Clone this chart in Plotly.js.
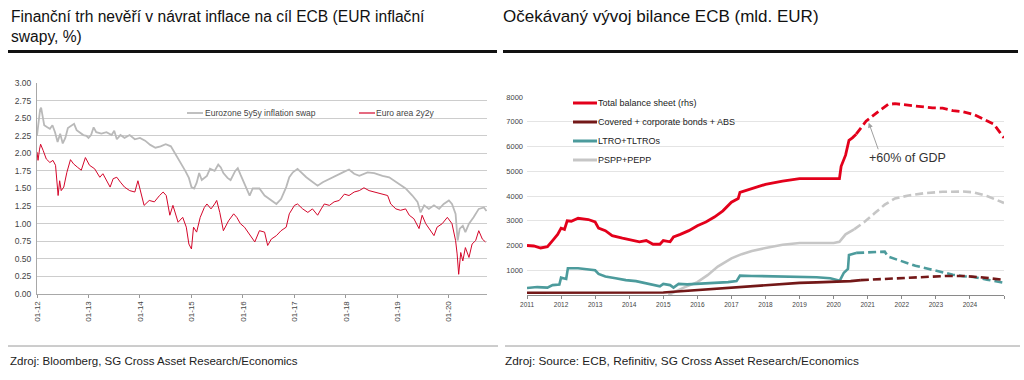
<!DOCTYPE html>
<html><head><meta charset="utf-8">
<script src="https://cdn.plot.ly/plotly-3.0.1.min.js"></script>
<style>html,body{margin:0;padding:0;background:#fff}#c{width:1024px;height:380px}</style>
</head><body><div id="c"></div>
<script>
// ---- Left chart: EUR inflation swaps (%) ----
const swapTickVals = [2012,2013,2014,2015,2016,2017,2018,2019,2020];
const swapTickText = ['01-12','01-13','01-14','01-15','01-16','01-17','01-18','01-19','01-20'];
const s5y5yYears = [2012.00,2012.03,2012.06,2012.08,2012.11,2012.14,2012.20,2012.25,2012.30,2012.35,2012.40,2012.45,2012.50,2012.55,2012.60,2012.67,2012.72,2012.77,2012.83,2012.90,2012.96,2013.00,2013.05,2013.10,2013.15,2013.25,2013.35,2013.45,2013.50,2013.55,2013.62,2013.70,2013.80,2013.90,2014.00,2014.10,2014.20,2014.30,2014.40,2014.50,2014.60,2014.70,2014.80,2014.88,2014.95,2015.00,2015.05,2015.10,2015.15,2015.20,2015.30,2015.36,2015.45,2015.52,2015.57,2015.62,2015.70,2015.76,2015.85,2015.90,2015.95,2016.00,2016.06,2016.13,2016.19,2016.32,2016.42,2016.52,2016.65,2016.74,2016.84,2016.90,2016.97,2017.06,2017.13,2017.23,2017.32,2017.45,2017.55,2017.68,2017.81,2017.94,2018.06,2018.16,2018.26,2018.42,2018.55,2018.71,2018.84,2018.94,2019.03,2019.16,2019.29,2019.39,2019.45,2019.52,2019.61,2019.71,2019.81,2019.90,2020.00,2020.06,2020.13,2020.17,2020.21,2020.27,2020.32,2020.39,2020.48,2020.58,2020.68,2020.73];
const s5y5y = [2.25,2.42,2.62,2.65,2.52,2.40,2.37,2.35,2.40,2.30,2.16,2.28,2.14,2.22,2.36,2.40,2.42,2.33,2.30,2.26,2.25,2.22,2.26,2.37,2.30,2.28,2.30,2.26,2.32,2.20,2.26,2.22,2.26,2.20,2.22,2.18,2.12,2.08,2.10,2.13,2.10,1.98,1.86,1.75,1.65,1.52,1.50,1.58,1.72,1.62,1.68,1.78,1.75,1.84,1.80,1.72,1.65,1.62,1.75,1.79,1.70,1.62,1.52,1.40,1.50,1.50,1.40,1.35,1.28,1.35,1.52,1.66,1.73,1.78,1.73,1.66,1.61,1.54,1.59,1.64,1.68,1.73,1.77,1.71,1.68,1.73,1.72,1.68,1.66,1.61,1.57,1.50,1.40,1.31,1.16,1.26,1.21,1.26,1.21,1.28,1.33,1.28,1.14,0.76,0.93,0.97,0.88,1.00,1.09,1.21,1.23,1.18];
const s2y2yYears = [2012.00,2012.02,2012.05,2012.07,2012.12,2012.18,2012.25,2012.31,2012.36,2012.41,2012.44,2012.47,2012.52,2012.58,2012.65,2012.71,2012.79,2012.86,2012.94,2013.02,2013.12,2013.22,2013.28,2013.35,2013.42,2013.48,2013.55,2013.62,2013.70,2013.80,2013.90,2013.96,2014.01,2014.08,2014.18,2014.28,2014.38,2014.45,2014.51,2014.58,2014.64,2014.74,2014.83,2014.90,2014.95,2015.00,2015.04,2015.10,2015.17,2015.25,2015.30,2015.38,2015.45,2015.49,2015.55,2015.62,2015.72,2015.82,2015.88,2015.95,2016.03,2016.13,2016.23,2016.32,2016.42,2016.48,2016.55,2016.65,2016.74,2016.84,2016.90,2017.00,2017.06,2017.16,2017.26,2017.35,2017.45,2017.52,2017.58,2017.68,2017.77,2017.87,2017.97,2018.06,2018.16,2018.26,2018.35,2018.45,2018.55,2018.68,2018.81,2018.87,2018.97,2019.06,2019.16,2019.23,2019.32,2019.42,2019.48,2019.55,2019.65,2019.71,2019.77,2019.87,2019.97,2020.06,2020.13,2020.16,2020.19,2020.23,2020.27,2020.32,2020.39,2020.45,2020.52,2020.58,2020.65,2020.71];
const s2y2y = [2.02,1.90,2.06,2.13,2.04,1.92,1.87,1.90,1.83,1.40,1.61,1.47,1.52,1.73,1.91,1.85,1.80,1.76,1.94,1.83,1.78,1.66,1.71,1.61,1.52,1.64,1.66,1.59,1.52,1.47,1.45,1.61,1.47,1.26,1.33,1.31,1.40,1.45,1.40,1.12,1.26,1.02,1.09,0.95,0.71,0.64,0.95,0.88,1.09,1.23,1.28,1.21,1.28,1.33,1.16,0.90,1.04,1.14,1.09,1.00,0.95,0.85,0.74,0.90,0.88,0.69,0.78,0.83,0.90,0.95,1.14,1.26,1.28,1.21,1.16,1.21,1.12,1.21,1.28,1.26,1.31,1.33,1.42,1.40,1.45,1.47,1.51,1.47,1.45,1.43,1.40,1.28,1.21,1.19,1.21,1.12,1.07,0.93,1.12,1.00,0.90,0.83,0.95,1.00,1.09,1.00,0.76,0.57,0.28,0.59,0.47,0.66,0.52,0.71,0.76,0.90,0.78,0.74];

// ---- Right chart: ECB balance sheet (bn EUR) ----
const bsTickVals = [2011,2012,2013,2014,2015,2016,2017,2018,2019,2020,2021,2022,2023,2024,2025];
const bsTickText = ['2011','2012','2013','2014','2015','2016','2017','2018','2019','2020','2021','2022','2023','2024',''];
const totalYears = [2011.0,2011.2,2011.4,2011.6,2011.75,2011.9,2012.0,2012.1,2012.18,2012.3,2012.5,2012.8,2013.0,2013.1,2013.3,2013.5,2013.8,2014.0,2014.3,2014.5,2014.7,2014.9,2015.0,2015.2,2015.3,2015.5,2015.75,2016.0,2016.25,2016.5,2016.75,2017.0,2017.2,2017.25,2017.5,2017.75,2018.0,2018.5,2019.0,2019.5,2020.0,2020.17,2020.22,2020.35,2020.45,2020.55,2020.66];
const total = [2000,1980,1900,1950,2200,2450,2700,2650,3000,2980,3100,3050,2950,2700,2600,2400,2300,2250,2150,2200,2050,2050,2200,2150,2350,2450,2600,2800,2950,3150,3400,3750,3900,4150,4250,4380,4470,4600,4700,4700,4690,4700,5200,5650,6250,6350,6500];
const totalFcYears = [2020.66,2020.95,2021.3,2021.6,2021.8,2022.1,2022.5,2022.9,2023.2,2023.5,2023.8,2024.1,2024.4,2024.7,2025.0];
const totalFc = [6500,7020,7400,7700,7730,7680,7600,7560,7550,7450,7400,7300,7100,6900,6350];
const coveredYears = [2011.0,2012.0,2013.0,2014.0,2014.8,2015.0,2015.3,2016.0,2016.5,2017.0,2017.5,2018.0,2018.5,2019.0,2019.5,2020.0,2020.5,2020.8];
const covered = [90,95,90,85,90,100,130,200,250,300,350,420,460,490,510,530,560,600];
const coveredFcYears = [2020.8,2021.2,2021.8,2022.3,2022.8,2023.3,2023.8,2024.3,2025.0];
const coveredFc = [600,630,680,720,750,770,770,720,610];
const ltroYears = [2011.0,2011.3,2011.6,2011.75,2011.95,2012.0,2012.15,2012.2,2012.5,2012.8,2013.0,2013.1,2013.3,2013.6,2013.9,2014.2,2014.5,2014.7,2014.9,2015.0,2015.2,2015.3,2015.45,2015.7,2016.0,2016.3,2016.6,2016.9,2017.15,2017.25,2017.6,2018.0,2018.5,2019.0,2019.5,2019.9,2020.1,2020.18,2020.3,2020.42,2020.45,2020.66];
const ltro = [280,320,300,400,420,700,650,1080,1080,1050,1000,850,750,680,600,560,480,400,350,450,400,300,450,430,450,450,480,520,560,780,770,760,750,740,720,680,620,580,900,1050,1620,1700];
const ltroFcYears = [2020.66,2020.9,2021.2,2021.5,2021.6,2022.0,2022.4,2022.8,2023.2,2023.5,2023.8,2024.1,2024.5,2025.0];
const ltroFc = [1700,1720,1750,1750,1550,1350,1180,1050,920,820,760,730,620,490];
const psppYears = [2015.15,2015.3,2015.6,2016.0,2016.3,2016.6,2017.0,2017.3,2017.6,2018.0,2018.5,2019.0,2019.5,2020.0,2020.17,2020.35,2020.6];
const pspp = [0,100,300,520,800,1150,1480,1650,1780,1900,2030,2100,2100,2100,2150,2450,2650];
const psppFcYears = [2020.6,2020.9,2021.2,2021.5,2021.8,2022.2,2022.7,2023.2,2023.8,2024.1,2024.5,2025.0];
const psppFc = [2650,2950,3300,3650,3900,4020,4120,4170,4180,4150,4000,3720];

const W = 1024, H = 380;
const px = v => v / W, py = v => 1 - v / H;
const FONT = 'Liberation Sans, Arial, Helvetica, sans-serif';

const C_GRAY = '#b9b9b9', C_RED = '#d4062a';
const C_TOT = '#e3001b', C_COV = '#731818', C_LTRO = '#4c9b9c', C_PSPP = '#c6c6c6';
const DASH = '8px,4px';

const traces = [
  {x: s5y5yYears, y: s5y5y, type: 'scatter', mode: 'lines', line: {color: C_GRAY, width: 1.8}, xaxis: 'x', yaxis: 'y', name: 'Eurozone 5y5y inflation swap'},
  {x: s2y2yYears, y: s2y2y, type: 'scatter', mode: 'lines', line: {color: C_RED, width: 1}, xaxis: 'x', yaxis: 'y', name: 'Euro area 2y2y'},
  {x: psppYears, y: pspp, type: 'scatter', mode: 'lines', line: {color: C_PSPP, width: 2.6}, xaxis: 'x2', yaxis: 'y2', name: 'PSPP+PEPP'},
  {x: psppFcYears, y: psppFc, type: 'scatter', mode: 'lines', line: {color: C_PSPP, width: 2.6, dash: DASH}, xaxis: 'x2', yaxis: 'y2'},
  {x: ltroYears, y: ltro, type: 'scatter', mode: 'lines', line: {color: C_LTRO, width: 2.6}, xaxis: 'x2', yaxis: 'y2', name: 'LTRO+TLTROs'},
  {x: ltroFcYears, y: ltroFc, type: 'scatter', mode: 'lines', line: {color: C_LTRO, width: 2.6, dash: DASH}, xaxis: 'x2', yaxis: 'y2'},
  {x: coveredYears, y: covered, type: 'scatter', mode: 'lines', line: {color: C_COV, width: 2.6}, xaxis: 'x2', yaxis: 'y2', name: 'Covered + corporate bonds + ABS'},
  {x: coveredFcYears, y: coveredFc, type: 'scatter', mode: 'lines', line: {color: C_COV, width: 2.6, dash: DASH}, xaxis: 'x2', yaxis: 'y2'},
  {x: totalYears, y: total, type: 'scatter', mode: 'lines', line: {color: C_TOT, width: 2.8}, xaxis: 'x2', yaxis: 'y2', name: 'Total balance sheet (rhs)'},
  {x: totalFcYears, y: totalFc, type: 'scatter', mode: 'lines', line: {color: C_TOT, width: 2.8, dash: DASH}, xaxis: 'x2', yaxis: 'y2'}
];

const hline = (x0, x1, y, color, w) => ({type: 'line', xref: 'paper', yref: 'paper', x0: px(x0), x1: px(x1), y0: py(y), y1: py(y), line: {color: color, width: w}});
const txt = (x, y, text, size, color, extra) => Object.assign({xref: 'paper', yref: 'paper', x: px(x), y: py(y), text: text, showarrow: false, xanchor: 'left', yanchor: 'middle', align: 'left', font: {family: FONT, size: size, color: color}}, extra || {});

const shapes = [
  hline(8, 497, 51.5, '#111', 3),
  hline(503, 1018, 51.5, '#111', 3),
  hline(8, 498, 346, '#9a9a9a', 1),
  hline(505, 1020, 346, '#9a9a9a', 1),
  // left legend samples
  hline(187, 203, 113, C_GRAY, 1.8),
  hline(359, 375, 113, C_RED, 1.2),
  // right legend samples
  hline(573, 597, 103, C_TOT, 3),
  hline(573, 597, 122, C_COV, 3),
  hline(573, 597, 141, C_LTRO, 3),
  hline(573, 597, 160, C_PSPP, 3)
];

const annotations = [
  txt(9, 6, 'Finanční trh nevěří v návrat inflace na cíl ECB (EUR inflační<br>swapy, %)', 15.6, '#111', {yanchor: 'top'}),
  txt(501, 5, 'Očekávaný vývoj bilance ECB (mld. EUR)', 17, '#111', {yanchor: 'top'}),
  txt(8, 361, 'Zdroj: Bloomberg, SG Cross Asset Research/Economics', 11.5, '#222'),
  txt(503, 361, 'Zdroj: Source: ECB, Refinitiv, SG Cross Asset Research/Economics', 11.8, '#222'),
  txt(203, 113, 'Eurozone 5y5y inflation swap', 8.5, '#444'),
  txt(374, 113, 'Euro area 2y2y', 8.5, '#444'),
  txt(596, 103, 'Total balance sheet (rhs)', 9, '#222'),
  txt(596, 122, 'Covered + corporate bonds + ABS', 9, '#222'),
  txt(596, 141, 'LTRO+TLTROs', 9, '#222'),
  txt(596, 160, 'PSPP+PEPP', 9, '#222'),
  txt(867, 158, '+60% of GDP', 12.5, '#333'),
  {xref: 'x2', yref: 'y2', x: 2021.03, y: 6960, text: '', showarrow: true, ax: 10, ay: 28, arrowhead: 2, arrowsize: 1, arrowwidth: 1, arrowcolor: '#a0a0a0', standoff: 0, startstandoff: 0}
];

const layout = {
  width: W, height: H,
  margin: {l: 0, r: 0, t: 0, b: 0, pad: 0},
  paper_bgcolor: '#fff', plot_bgcolor: 'rgba(0,0,0,0)',
  showlegend: false,
  font: {family: FONT, color: '#444'},
  xaxis: {domain: [px(37), px(487)], range: [2012, 2020.74], anchor: 'y', tickmode: 'array', tickvals: swapTickVals, ticktext: swapTickText,
    tickangle: -90, ticks: 'outside', ticklen: 3, tickcolor: '#999', showline: true, linecolor: '#a8a8a8', linewidth: 1,
    showgrid: false, zeroline: false, tickfont: {size: 8, color: '#444', family: FONT}, fixedrange: true},
  yaxis: {domain: [py(294), py(83)], range: [0, 3], anchor: 'x', dtick: 0.25, tick0: 0, tickformat: '.2f', showgrid: true, gridcolor: '#cdcdcd', gridwidth: 1,
    showline: true, linecolor: '#a8a8a8', linewidth: 1, zeroline: false, ticks: '', ticklabelstandoff: 3,
    tickfont: {size: 8.5, color: '#444', family: FONT}, fixedrange: true},
  xaxis2: {domain: [px(527), px(1004)], range: [2011, 2025], anchor: 'y2', tickmode: 'array', tickvals: bsTickVals, ticktext: bsTickText,
    ticks: 'outside', ticklen: 3, tickcolor: '#888', showline: true, linecolor: '#8a8a8a', linewidth: 1, showgrid: false, zeroline: false,
    tickfont: {size: 6.5, color: '#444', family: FONT}, fixedrange: true},
  yaxis2: {domain: [py(295), py(97)], range: [0, 8000], anchor: 'x2', tickmode: 'array', tickvals: [1000,2000,3000,4000,5000,6000,7000,8000],
    showgrid: true, gridcolor: '#e4e4e4', gridwidth: 1, showline: false, zeroline: false, ticks: '', ticklabelstandoff: 3,
    tickfont: {size: 7.5, color: '#444', family: FONT}, fixedrange: true},
  shapes: shapes,
  annotations: annotations
};

Plotly.newPlot('c', traces, layout, {displayModeBar: false, staticPlot: true});
</script>
</body></html>
